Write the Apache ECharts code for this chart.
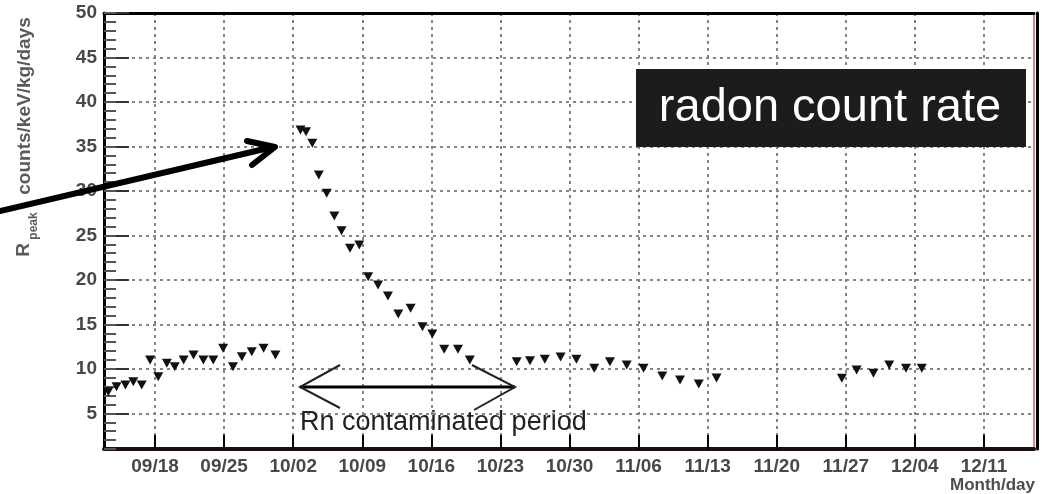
<!DOCTYPE html>
<html><head><meta charset="utf-8">
<script src="https://cdn.jsdelivr.net/npm/echarts@6/dist/echarts.min.js"></script>
<style>html,body{margin:0;padding:0;background:#fff}#c{width:1042px;height:494px}</style>
</head><body><div id="c"></div>
<script>
// x values: days relative to 09/18
const tickDays = [0, 7, 14, 21, 28, 35, 42, 49, 56, 63, 70, 77, 84];
const tickLabels = ['09/18', '09/25', '10/02', '10/09', '10/16', '10/23', '10/30', '11/06', '11/13', '11/20', '11/27', '12/04', '12/11'];
const yMajorTicks = [5, 10, 15, 20, 25, 30, 35, 40, 45, 50];
const yMinorTicks = [1,2,3,4,5,6,7,8,9,10,11,12,13,14,15,16,17,18,19,20,21,22,23,24,25,26,27,28,29,30,31,32,33,34,35,36,37,38,39,40,41,42,43,44,45,46,47,48,49,50];

const earlyDays  = [-4.73, -3.9, -3.0, -2.2, -1.35, -0.5, 0.33, 1.2, 2.0, 2.9, 3.9, 4.9, 5.9, 6.9, 7.9, 8.8, 9.8, 11.0, 12.2];
const earlyRates = [7.44, 8.0, 8.19, 8.56, 8.19, 11.0, 9.12, 10.63, 10.25, 11.0, 11.56, 11.0, 11.0, 12.31, 10.25, 11.37, 11.93, 12.31, 11.56];

const radonDays  = [14.74, 15.3, 15.94, 16.6, 17.4, 18.17, 18.9, 19.76, 20.7, 21.6, 22.6, 23.6, 24.65, 25.9, 27.1, 28.1, 29.3, 30.7, 31.9];
const radonRates = [36.84, 36.65, 35.35, 31.79, 29.73, 27.18, 25.53, 23.55, 23.92, 20.36, 19.43, 18.19, 16.17, 16.81, 14.74, 13.92, 12.2, 12.2, 11.0];

const afterDays  = [36.65, 38.0, 39.5, 41.1, 42.7, 44.5, 46.1, 47.8, 49.5, 51.4, 53.2, 55.1, 56.9];
const afterRates = [10.81, 10.92, 11.08, 11.34, 11.08, 10.07, 10.81, 10.44, 10.07, 9.2, 8.75, 8.3, 8.98];

const lateDays  = [69.6, 71.1, 72.8, 74.4, 76.1, 77.7];
const lateRates = [8.94, 9.88, 9.51, 10.44, 10.07, 10.07];

const zip = (xs, ys) => xs.map((x, i) => [x, ys[i]]);
const allPoints = [].concat(zip(earlyDays, earlyRates), zip(radonDays, radonRates), zip(afterDays, afterRates), zip(lateDays, lateRates));

const FONT = '"Liberation Sans", Arial, sans-serif';
const labelColor = '#484848';
const X_MIN = -5.17, X_MAX = 89.07, Y_MIN = 1, Y_MAX = 50;

const chart = echarts.init(document.getElementById('c'), null, {renderer: 'canvas'});
const option = {
  animation: false,
  backgroundColor: '#fff',
  grid: {left: 104, right: 8, top: 13, bottom: 45},
  xAxis: [
    {
      type: 'value', min: X_MIN, max: X_MAX, position: 'bottom',
      axisLine: {show: true, onZero: false, lineStyle: {color: '#1c1010', width: 4}},
      axisTick: {show: true, inside: true, length: 14, customValues: tickDays, lineStyle: {color: '#000', width: 2}},
      axisLabel: {
        customValues: tickDays,
        formatter: v => { const i = tickDays.indexOf(Math.round(v)); return i >= 0 ? tickLabels[i] : ''; },
        fontSize: 19, fontWeight: 'bold', color: labelColor, margin: 8, fontFamily: FONT
      },
      splitLine: {show: true, lineStyle: {color: '#858585', width: 2, type: [3, 4]}}
    },
    {
      type: 'value', min: X_MIN, max: X_MAX, position: 'top',
      axisLine: {show: true, onZero: false, lineStyle: {color: '#000', width: 3}},
      axisTick: {show: false}, axisLabel: {show: false}, splitLine: {show: false}
    }
  ],
  yAxis: [
    {
      type: 'value', min: Y_MIN, max: Y_MAX, position: 'left',
      axisLine: {show: true, onZero: false, lineStyle: {color: '#000', width: 3}},
      axisTick: {show: true, inside: true, length: 25, customValues: yMajorTicks, lineStyle: {color: '#333', width: 2}},
      axisLabel: {customValues: yMajorTicks, fontSize: 19, fontWeight: 'bold', color: labelColor, margin: 7, fontFamily: FONT},
      splitLine: {show: true, lineStyle: {color: '#858585', width: 2, type: [3, 4]}}
    },
    {
      type: 'value', min: Y_MIN, max: Y_MAX, position: 'left',
      axisLine: {show: false, onZero: false},
      axisTick: {show: true, inside: true, length: 12, customValues: yMinorTicks, lineStyle: {color: '#555', width: 2}},
      axisLabel: {show: false}, splitLine: {show: false}
    },
    {
      type: 'value', min: Y_MIN, max: Y_MAX, position: 'right', offset: 3,
      axisLine: {show: true, onZero: false, lineStyle: {color: '#000', width: 3}},
      axisTick: {show: false}, axisLabel: {show: false}, splitLine: {show: false}
    },
    {
      type: 'value', min: Y_MIN, max: Y_MAX, position: 'right', offset: 0,
      axisLine: {show: true, onZero: false, lineStyle: {color: '#d08a8a', width: 2}},
      axisTick: {show: false}, axisLabel: {show: false}, splitLine: {show: false}
    }
  ],
  series: [{
    type: 'scatter', xAxisIndex: 0, yAxisIndex: 0,
    data: allPoints,
    symbol: 'triangle', symbolRotate: 180, symbolSize: [10, 9],
    itemStyle: {color: '#111', opacity: 1},
    z: 5
  }],
  graphic: [
    // y-axis title
    {type: 'text', x: 25, y: 106, rotation: Math.PI / 2, z: 10,
     style: {text: 'counts/keV/kg/days', font: 'bold 19px ' + FONT, fill: '#5a5a5a', align: 'center', verticalAlign: 'middle'}},
    {type: 'text', x: 24, y: 250, rotation: Math.PI / 2, z: 10,
     style: {text: 'R', font: 'bold 19px ' + FONT, fill: '#5a5a5a', align: 'center', verticalAlign: 'middle'}},
    {type: 'text', x: 34, y: 226, rotation: Math.PI / 2, z: 10,
     style: {text: 'peak', font: 'bold 12px ' + FONT, fill: '#5a5a5a', align: 'center', verticalAlign: 'middle'}},
    // x-axis title
    {type: 'text', x: 1035, y: 485, z: 10,
     style: {text: 'Month/day', font: 'bold 17px ' + FONT, fill: '#4d4d4d', align: 'right', verticalAlign: 'middle'}},
    // legend-like box
    {type: 'rect', shape: {x: 636, y: 69, width: 390, height: 78}, style: {fill: '#1c1c1c'}, z: 20},
    {type: 'text', x: 830, y: 108, z: 21,
     style: {text: 'radon count rate', font: '47px ' + FONT, fill: '#ffffff', align: 'center', verticalAlign: 'middle'}},
    // big arrow
    {type: 'polyline', shape: {points: [[0, 211], [273, 147]]}, style: {stroke: '#000', lineWidth: 6, lineCap: 'round'}, z: 30},
    {type: 'polyline', shape: {points: [[247, 141], [275, 147], [252, 165]]}, style: {stroke: '#000', lineWidth: 6, lineCap: 'round', lineJoin: 'round', fill: null}, z: 30},
    // contaminated period double arrow
    {type: 'polyline', shape: {points: [[300, 387], [515, 387]]}, style: {stroke: '#000', lineWidth: 3}, z: 30},
    {type: 'polyline', shape: {points: [[340, 365], [300, 387], [340, 408]]}, style: {stroke: '#222', lineWidth: 2, fill: null}, z: 30},
    {type: 'polyline', shape: {points: [[472, 365], [515, 387], [474, 410]]}, style: {stroke: '#222', lineWidth: 2, fill: null}, z: 30},
    {type: 'text', x: 300, y: 423, z: 30,
     style: {text: 'Rn contaminated period', font: '27px ' + FONT, fill: '#222', align: 'left', verticalAlign: 'middle'}}
  ]
};
chart.setOption(option);
</script>
</body></html>
